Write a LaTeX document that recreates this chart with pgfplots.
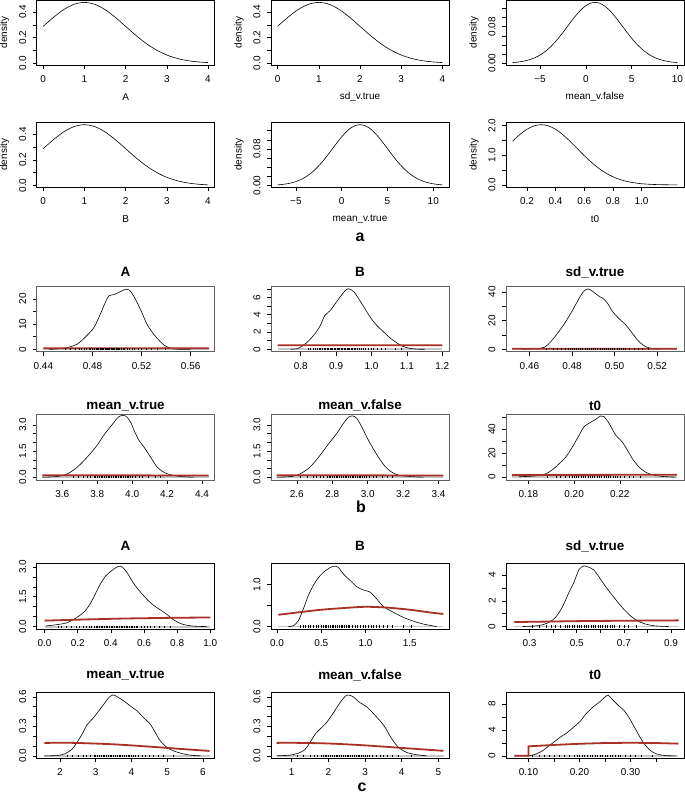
\documentclass[border=0pt]{standalone}
\usepackage{fontspec}
\setmainfont{Liberation Sans}
\usepackage{pgfplots}
\pgfplotsset{compat=1.18}
\definecolor{prior}{RGB}{168,48,36}
\definecolor{boxb}{RGB}{95,95,95}
\pgfplotsset{
  base/.style={scale only axis, anchor=south west, width=178bp,
    tick align=outside, xtick pos=left, ytick pos=left,
    major tick length=4bp, minor tick length=0bp,
    every tick/.style={black, line width=0.5bp},
    axis line style={line width=0.6bp},
    ticklabel style={font=\fontsize{10}{11}\selectfont, inner sep=0pt, text=black},
    xticklabel style={anchor=north},
    yticklabel style={rotate=90, anchor=south},
    xticklabel shift=6.3bp, yticklabel shift=6.3bp},
  sa/.style={base, height=65bp,
    label style={font=\fontsize{10}{11}\selectfont},
    xlabel style={at={(axis description cs:0.5,-0.49)}, anchor=center},
    ylabel style={at={(axis description cs:-0.18,0.5)}, anchor=center},
    ylabel={density}},
  sb/.style={base, height=65.5bp, axis line style={boxb},
    every axis title/.style={at={(axis description cs:0.5,1)}, anchor=center, font=\bfseries\fontsize{13.5}{15}\selectfont, yshift=14bp}},
  sc/.style={base, height=65.5bp,
    every axis title/.style={at={(axis description cs:0.5,1)}, anchor=center, font=\bfseries\fontsize{13.5}{15}\selectfont, yshift=17.5bp}},
  dens/.style={black, line width=0.6bp, smooth},
  pri/.style={prior, line width=1.8bp},
  zer/.style={gray!45, line width=1.8bp},
  rug/.style={only marks, mark=|, mark size=1.1bp, mark options={black, line width=0.35bp}},
}
\begin{document}
\begin{tikzpicture}
\path[use as bounding box] (0,0) rectangle (685bp,793bp);
% ---------------- section a ----------------
\begin{axis}[sa, at={(36.6bp,728bp)}, xmin=-0.16, xmax=4.16, ymin=-0.0135, ymax=0.493,
  xtick={0,1,2,3,4}, xticklabels={0,1,2,3,4}, ytick={0,0.1,0.2,0.3,0.4}, yticklabels={0.0,,0.2,,0.4}, xlabel={A}]
\addplot[dens] coordinates {(0,0.2876)(0.25,0.3579)(0.5,0.4185)(0.75,0.4596)(1,0.4742)(1.25,0.4596)(1.5,0.4185)(1.75,0.3579)(2,0.2876)(2.25,0.2171)(2.5,0.1540)(2.75,0.1026)(3,0.0642)(3.25,0.0377)(3.5,0.0208)(3.75,0.0108)(4,0.0053)};
\end{axis}
\begin{axis}[sa, at={(271bp,728bp)}, xmin=-0.16, xmax=4.16, ymin=-0.0135, ymax=0.493,
  xtick={0,1,2,3,4}, xticklabels={0,1,2,3,4}, ytick={0,0.1,0.2,0.3,0.4}, yticklabels={0.0,,0.2,,0.4}, xlabel={sd\_v.true}]
\addplot[dens] coordinates {(0,0.2876)(0.25,0.3579)(0.5,0.4185)(0.75,0.4596)(1,0.4742)(1.25,0.4596)(1.5,0.4185)(1.75,0.3579)(2,0.2876)(2.25,0.2171)(2.5,0.1540)(2.75,0.1026)(3,0.0642)(3.25,0.0377)(3.5,0.0208)(3.75,0.0108)(4,0.0053)};
\end{axis}
\begin{axis}[sa, at={(506bp,728bp)}, xmin=-8.72, xmax=10.72, ymin=-0.0038, ymax=0.1382,
  xtick={-5,0,5,10}, xticklabels={−5,0,5,10}, ytick={0,0.02,0.04,0.06,0.08,0.10,0.12}, yticklabels={0.00,,,,0.08,,}, xlabel={mean\_v.false}]
\addplot[dens] coordinates {(-8,0.00148)(-7.5,0.00240)(-7,0.00380)(-6.5,0.00584)(-6,0.00874)(-5.5,0.01272)(-5,0.01800)(-4.5,0.02477)(-4,0.03317)(-3.5,0.04317)(-3,0.05467)(-2.5,0.06734)(-2,0.08066)(-1.5,0.09397)(-1,0.10648)(-0.5,0.11736)(0,0.12579)(0.5,0.13115)(1,0.13298)(1.5,0.13115)(2,0.12579)(2.5,0.11736)(3,0.10648)(3.5,0.09397)(4,0.08066)(4.5,0.06734)(5,0.05467)(5.5,0.04317)(6,0.03317)(6.5,0.02477)(7,0.01800)(7.5,0.01272)(8,0.00874)(8.5,0.00584)(9,0.00380)(9.5,0.00240)(10,0.00148)};
\end{axis}
\begin{axis}[sa, at={(36.6bp,605.7bp)}, xmin=-0.16, xmax=4.16, ymin=-0.0135, ymax=0.493,
  xtick={0,1,2,3,4}, xticklabels={0,1,2,3,4}, ytick={0,0.1,0.2,0.3,0.4}, yticklabels={0.0,,0.2,,0.4}, xlabel={B}]
\addplot[dens] coordinates {(0,0.2876)(0.25,0.3579)(0.5,0.4185)(0.75,0.4596)(1,0.4742)(1.25,0.4596)(1.5,0.4185)(1.75,0.3579)(2,0.2876)(2.25,0.2171)(2.5,0.1540)(2.75,0.1026)(3,0.0642)(3.25,0.0377)(3.5,0.0208)(3.75,0.0108)(4,0.0053)};
\end{axis}
\begin{axis}[sa, at={(271bp,605.7bp)}, xmin=-7.72, xmax=11.72, ymin=-0.0038, ymax=0.1382,
  xtick={-5,0,5,10}, xticklabels={−5,0,5,10}, ytick={0,0.02,0.04,0.06,0.08,0.10,0.12}, yticklabels={0.00,,,,0.08,,}, xlabel={mean\_v.true}]
\addplot[dens] coordinates {(-7,0.00148)(-6.5,0.00240)(-6,0.00380)(-5.5,0.00584)(-5,0.00874)(-4.5,0.01272)(-4,0.01800)(-3.5,0.02477)(-3,0.03317)(-2.5,0.04317)(-2,0.05467)(-1.5,0.06734)(-1,0.08066)(-0.5,0.09397)(0,0.10648)(0.5,0.11736)(1,0.12579)(1.5,0.13115)(2,0.13298)(2.5,0.13115)(3,0.12579)(3.5,0.11736)(4,0.10648)(4.5,0.09397)(5,0.08066)(5.5,0.06734)(6,0.05467)(6.5,0.04317)(7,0.03317)(7.5,0.02477)(8,0.01800)(8.5,0.01272)(9,0.00874)(9.5,0.00584)(10,0.00380)(10.5,0.00240)(11,0.00148)};
\end{axis}
\begin{axis}[sa, at={(506bp,605.7bp)}, xmin=0.054, xmax=1.296, ymin=-0.08, ymax=2.105,
  xtick={0.2,0.4,0.6,0.8,1.0}, xticklabels={0.2,0.4,0.6,0.8,1.0}, ytick={0,0.5,1,1.5,2}, yticklabels={0.0,,1.0,,2.0}, xlabel={t0}]
\addplot[dens] coordinates {(0.10,1.4703)(0.15,1.6913)(0.20,1.8692)(0.25,1.9847)(0.30,2.0248)(0.35,1.9847)(0.40,1.8692)(0.45,1.6913)(0.50,1.4703)(0.55,1.2281)(0.60,0.9856)(0.65,0.7600)(0.70,0.5630)(0.75,0.4007)(0.80,0.2740)(0.85,0.1800)(0.90,0.1136)(0.95,0.0689)(1.00,0.0402)(1.05,0.0225)(1.10,0.0121)(1.15,0.0062)(1.20,0.0031)(1.25,0.0015)};
\end{axis}
\node[font=\bfseries\fontsize{16}{17}\selectfont, inner sep=0pt] at (360bp,556bp) {a};
% ---------------- section b ----------------
\begin{axis}[sb, at={(36.6bp,441.3bp)}, title={A}, xmin=0.4345, xmax=0.5795, ymin=-0.95, ymax=25,
  xtick={0.44,0.48,0.52,0.56}, xticklabels={0.44,0.48,0.52,0.56}, ytick={0,5,10,15,20}, yticklabels={0,,10,,20}]
\addplot[zer] coordinates {(0.44,0)(0.575,0)};
\addplot[dens] coordinates {(0.445,0)(0.450,0.1)(0.4596,0.7)(0.4677,2.1)(0.4745,5.0)(0.4813,8.7)(0.4867,14.3)(0.4908,18.9)(0.4935,21.2)(0.4976,21.7)(0.503,22.9)(0.5071,23.8)(0.5098,23.6)(0.5139,20.9)(0.5193,15.6)(0.5247,9.7)(0.5315,5.0)(0.5383,1.7)(0.5437,0.4)(0.549,0.05)(0.56,0)};
\addplot[pri] coordinates {(0.44,0.405)(0.50,0.418)(0.575,0.434)};
\addplot[rug] coordinates {(0.458,0)(0.462,0)(0.466,0)(0.469,0)(0.471,0)(0.473,0)(0.475,0)(0.477,0)(0.478,0)(0.48,0)(0.481,0)(0.483,0)(0.484,0)(0.485,0)(0.486,0)(0.487,0)(0.488,0)(0.489,0)(0.49,0)(0.491,0)(0.492,0)(0.493,0)(0.494,0)(0.495,0)(0.496,0)(0.497,0)(0.498,0)(0.499,0)(0.5,0)(0.501,0)(0.502,0)(0.503,0)(0.505,0)(0.506,0)(0.508,0)(0.51,0)(0.512,0)(0.514,0)(0.517,0)(0.52,0)(0.524,0)(0.528,0)(0.533,0)(0.539,0)};
\end{axis}
\begin{axis}[sb, at={(271bp,441.3bp)}, title={B}, xmin=0.716, xmax=1.219, ymin=-0.28, ymax=7.3,
  xtick={0.8,0.9,1.0,1.1,1.2}, xticklabels={0.8,0.9,1.0,1.1,1.2}, ytick={0,1,2,3,4,5,6,7}, yticklabels={0,,2,,4,,6,}]
\addplot[zer] coordinates {(0.735,0)(1.2,0)};
\addplot[dens] coordinates {(0.772,0)(0.791,0.08)(0.805,0.4)(0.823,1.0)(0.842,1.9)(0.856,2.8)(0.868,3.9)(0.884,4.5)(0.898,5.3)(0.912,6.1)(0.926,6.8)(0.935,7.0)(0.949,6.7)(0.963,5.9)(0.977,5.0)(0.995,3.8)(1.014,2.8)(1.033,2.05)(1.051,1.36)(1.07,0.78)(1.088,0.35)(1.107,0.12)(1.126,0.02)(1.15,0)};
\addplot[pri] coordinates {(0.735,0.458)(0.9,0.470)(1.0,0.474)(1.2,0.465)};
\addplot[rug] coordinates {(0.822,0)(0.828,0)(0.835,0)(0.84,0)(0.846,0)(0.851,0)(0.856,0)(0.861,0)(0.866,0)(0.87,0)(0.874,0)(0.878,0)(0.882,0)(0.886,0)(0.89,0)(0.894,0)(0.898,0)(0.902,0)(0.906,0)(0.91,0)(0.914,0)(0.918,0)(0.922,0)(0.926,0)(0.93,0)(0.934,0)(0.938,0)(0.942,0)(0.946,0)(0.95,0)(0.955,0)(0.96,0)(0.965,0)(0.97,0)(0.976,0)(0.982,0)(0.99,0)(0.998,0)(1.006,0)(1.016,0)(1.028,0)(1.04,0)(1.068,0)(1.085,0)};
\end{axis}
\begin{axis}[sb, at={(506bp,441.3bp)}, title={sd\_v.true}, xmin=0.449, xmax=0.5326, ymin=-1.68, ymax=44,
  xtick={0.46,0.48,0.50,0.52}, xticklabels={0.46,0.48,0.50,0.52}, ytick={0,10,20,30,40}, yticklabels={0,,20,,40}]
\addplot[zer] coordinates {(0.4519,0)(0.5293,0)};
\addplot[dens] coordinates {(0.4569,0)(0.4631,0.5)(0.467,1.4)(0.4701,5.4)(0.4732,11.2)(0.4764,17.8)(0.4795,25.3)(0.4826,33.5)(0.4849,39.3)(0.4865,41.6)(0.4877,42.1)(0.4896,40.5)(0.4927,37.0)(0.4943,35.8)(0.4966,32.3)(0.499,26.4)(0.5021,21.3)(0.5052,17.1)(0.5083,11.2)(0.5114,5.4)(0.5145,1.9)(0.5177,0.5)(0.5208,0)};
\addplot[pri] coordinates {(0.4519,0.41)(0.5293,0.43)};
\addplot[rug] coordinates {(0.468,0)(0.471,0)(0.473,0)(0.475,0)(0.477,0)(0.478,0)(0.479,0)(0.48,0)(0.481,0)(0.482,0)(0.483,0)(0.484,0)(0.485,0)(0.486,0)(0.487,0)(0.488,0)(0.489,0)(0.49,0)(0.491,0)(0.492,0)(0.493,0)(0.494,0)(0.495,0)(0.496,0)(0.497,0)(0.498,0)(0.499,0)(0.5,0)(0.501,0)(0.502,0)(0.503,0)(0.504,0)(0.505,0)(0.507,0)(0.509,0)(0.511,0)(0.513,0)(0.516,0)};
\end{axis}
\begin{axis}[sb, at={(36.6bp,313bp)}, title={mean\_v.true}, title style={yshift=-5bp}, xmin=3.453, xmax=4.472, ymin=-0.16, ymax=3.6,
  xtick={3.6,3.8,4.0,4.2,4.4}, xticklabels={3.6,3.8,4.0,4.2,4.4}, ytick={0,0.5,1,1.5,2,2.5,3}, yticklabels={0.0,,,1.5,,,3.0}]
\addplot[zer] coordinates {(3.486,0)(4.438,0)};
\addplot[dens] coordinates {(3.486,0)(3.571,0.04)(3.629,0.19)(3.686,0.58)(3.743,1.16)(3.8,1.84)(3.838,2.42)(3.876,2.9)(3.914,3.38)(3.933,3.52)(3.962,3.52)(3.99,3.19)(4.01,2.71)(4.038,2.13)(4.067,1.74)(4.105,1.16)(4.143,0.58)(4.181,0.29)(4.219,0.14)(4.276,0.04)(4.352,0)};
\addplot[pri] coordinates {(3.486,0.1176)(4.0,0.1065)(4.438,0.0955)};
\addplot[rug] coordinates {(3.66,0)(3.69,0)(3.72,0)(3.74,0)(3.76,0)(3.78,0)(3.79,0)(3.8,0)(3.81,0)(3.82,0)(3.83,0)(3.84,0)(3.85,0)(3.86,0)(3.87,0)(3.88,0)(3.89,0)(3.9,0)(3.91,0)(3.92,0)(3.93,0)(3.94,0)(3.95,0)(3.96,0)(3.97,0)(3.98,0)(3.99,0)(4.0,0)(4.02,0)(4.04,0)(4.06,0)(4.09,0)(4.13,0)(4.16,0)};
\end{axis}
\begin{axis}[sb, at={(271bp,313bp)}, title={mean\_v.false}, title style={yshift=-5bp}, xmin=2.454, xmax=3.459, ymin=-0.16, ymax=3.6,
  xtick={2.6,2.8,3.0,3.2,3.4}, xticklabels={2.6,2.8,3.0,3.2,3.4}, ytick={0,0.5,1,1.5,2,2.5,3}, yticklabels={0.0,,,1.5,,,3.0}]
\addplot[zer] coordinates {(2.486,0)(3.427,0)};
\addplot[dens] coordinates {(2.486,0)(2.57,0.04)(2.618,0.19)(2.674,0.58)(2.731,1.26)(2.778,1.9)(2.825,2.51)(2.863,3.09)(2.891,3.44)(2.915,3.52)(2.938,3.38)(2.966,2.9)(2.994,2.32)(3.023,1.78)(3.06,1.16)(3.098,0.62)(3.136,0.29)(3.173,0.12)(3.239,0.04)(3.315,0)};
\addplot[pri] coordinates {(2.486,0.1176)(3.0,0.1065)(3.427,0.0958)};
\addplot[rug] coordinates {(2.62,0)(2.66,0)(2.69,0)(2.71,0)(2.73,0)(2.75,0)(2.77,0)(2.78,0)(2.79,0)(2.8,0)(2.81,0)(2.82,0)(2.83,0)(2.84,0)(2.85,0)(2.86,0)(2.87,0)(2.88,0)(2.89,0)(2.9,0)(2.91,0)(2.92,0)(2.93,0)(2.94,0)(2.95,0)(2.96,0)(2.97,0)(2.98,0)(2.99,0)(3.01,0)(3.03,0)(3.05,0)(3.08,0)(3.11,0)(3.14,0)};
\end{axis}
\begin{axis}[sb, at={(506bp,313bp)}, title={t0}, title style={yshift=-5bp}, xmin=0.1702, xmax=0.2481, ymin=-2.4, ymax=52.5,
  xtick={0.18,0.20,0.22}, xticklabels={0.18,0.20,0.22}, ytick={0,10,20,30,40,50}, yticklabels={0,,20,,40,}]
\addplot[zer] coordinates {(0.1728,0)(0.2451,0)};
\addplot[dens] coordinates {(0.176,0.3)(0.1833,1.1)(0.1876,2.8)(0.1905,6.2)(0.1935,11.3)(0.1964,16.9)(0.1993,25.4)(0.2022,35.2)(0.2044,42.3)(0.2065,45.1)(0.2095,48.5)(0.2116,51.3)(0.2131,50.7)(0.2153,45.1)(0.2182,35.2)(0.2204,31.0)(0.2225,25.4)(0.2255,15.5)(0.2284,8.5)(0.2313,4.2)(0.2342,2.0)(0.2385,0.6)(0.2444,0)};
\addplot[pri] coordinates {(0.1728,1.777)(0.21,1.90)(0.2451,1.976)};
\addplot[rug] coordinates {(0.188,0)(0.192,0)(0.194,0)(0.196,0)(0.198,0)(0.199,0)(0.2,0)(0.201,0)(0.202,0)(0.203,0)(0.204,0)(0.205,0)(0.206,0)(0.207,0)(0.208,0)(0.209,0)(0.21,0)(0.211,0)(0.212,0)(0.213,0)(0.214,0)(0.215,0)(0.216,0)(0.217,0)(0.218,0)(0.219,0)(0.22,0)(0.222,0)(0.224,0)(0.226,0)(0.229,0)};
\end{axis}
\node[font=\bfseries\fontsize{16}{17}\selectfont, inner sep=0pt] at (361bp,286bp) {b};
% ---------------- section c ----------------
\begin{axis}[sc, at={(36.6bp,164bp)}, title={A}, xmin=-0.048, xmax=1.026, ymin=-0.12, ymax=3.17,
  xtick={0,0.2,0.4,0.6,0.8,1.0}, xticklabels={0.0,0.2,0.4,0.6,0.8,1.0}, ytick={0,0.5,1,1.5,2,2.5,3}, yticklabels={0.0,,,1.5,,,3.0}]
\addplot[zer] coordinates {(0,0)(1,0)};
\addplot[dens] coordinates {(0.006,0.03)(0.076,0.1)(0.137,0.2)(0.197,0.47)(0.247,0.81)(0.287,1.32)(0.327,1.99)(0.367,2.53)(0.408,2.83)(0.438,3.0)(0.458,3.04)(0.478,2.92)(0.508,2.58)(0.538,2.16)(0.578,1.74)(0.618,1.37)(0.659,1.06)(0.699,0.84)(0.739,0.61)(0.779,0.34)(0.829,0.13)(0.89,0.03)(0.98,0)};
\addplot[pri] coordinates {(0,0.30)(0.25,0.36)(0.5,0.41)(0.75,0.44)(1.0,0.46)};
\addplot[rug] coordinates {(0.08,0)(0.10,0)(0.13,0)(0.16,0)(0.19,0)(0.21,0)(0.23,0)(0.25,0)(0.27,0)(0.28,0)(0.30,0)(0.31,0)(0.32,0)(0.33,0)(0.34,0)(0.35,0)(0.36,0)(0.37,0)(0.38,0)(0.39,0)(0.40,0)(0.41,0)(0.42,0)(0.43,0)(0.44,0)(0.45,0)(0.46,0)(0.47,0)(0.48,0)(0.49,0)(0.50,0)(0.51,0)(0.52,0)(0.53,0)(0.54,0)(0.55,0)(0.56,0)(0.58,0)(0.60,0)(0.62,0)(0.64,0)(0.66,0)(0.69,0)(0.72,0)(0.76,0)};
\end{axis}
\begin{axis}[sc, at={(271bp,164bp)}, title={B}, xmin=-0.068, xmax=1.944, ymin=-0.058, ymax=1.5,
  xtick={0,0.5,1.0,1.5}, xticklabels={0.0,0.5,1.0,1.5}, ytick={0,0.5,1.0}, yticklabels={0.0,,1.0}]
\addplot[zer] coordinates {(0.015,0)(1.88,0)};
\addplot[dens] coordinates {(0.128,0)(0.185,0.02)(0.241,0.14)(0.298,0.42)(0.354,0.74)(0.411,0.98)(0.467,1.16)(0.524,1.29)(0.599,1.40)(0.655,1.44)(0.693,1.41)(0.75,1.25)(0.825,1.1)(0.9,0.95)(0.975,0.87)(1.051,0.82)(1.126,0.66)(1.201,0.48)(1.314,0.34)(1.427,0.22)(1.54,0.13)(1.653,0.06)(1.804,0)};
\addplot[pri, smooth] coordinates {(0.015,0.28)(0.25,0.34)(0.5,0.40)(0.75,0.44)(1.0,0.47)(1.25,0.45)(1.5,0.40)(1.75,0.33)(1.88,0.30)};
\addplot[rug] coordinates {(0.26,0)(0.29,0)(0.32,0)(0.35,0)(0.38,0)(0.41,0)(0.44,0)(0.47,0)(0.5,0)(0.52,0)(0.54,0)(0.56,0)(0.58,0)(0.6,0)(0.62,0)(0.64,0)(0.66,0)(0.68,0)(0.7,0)(0.72,0)(0.74,0)(0.76,0)(0.78,0)(0.8,0)(0.82,0)(0.85,0)(0.88,0)(0.91,0)(0.94,0)(0.97,0)(1.0,0)(1.03,0)(1.06,0)(1.09,0)(1.12,0)(1.16,0)(1.2,0)(1.25,0)(1.3,0)(1.43,0)(1.52,0)};
\end{axis}
\begin{axis}[sc, at={(506bp,164bp)}, title={sd\_v.true}, xmin=0.2, xmax=0.955, ymin=-0.19, ymax=4.9,
  xtick={0.3,0.4,0.5,0.6,0.7,0.8,0.9}, xticklabels={0.3,,0.5,,0.7,,0.9}, ytick={0,1,2,3,4}, yticklabels={0,,2,,4}]
\addplot[zer] coordinates {(0.235,0)(0.932,0)};
\addplot[dens] coordinates {(0.27,0)(0.341,0.08)(0.383,0.34)(0.411,0.73)(0.439,1.52)(0.468,2.69)(0.489,3.48)(0.51,4.44)(0.531,4.71)(0.552,4.6)(0.573,4.39)(0.594,3.87)(0.623,3.09)(0.651,2.43)(0.679,1.78)(0.707,1.2)(0.735,0.73)(0.763,0.39)(0.799,0.16)(0.834,0.05)(0.89,0)};
\addplot[pri] coordinates {(0.235,0.35)(0.5,0.42)(0.75,0.46)(0.932,0.48)};
\addplot[rug] coordinates {(0.31,0)(0.34,0)(0.37,0)(0.39,0)(0.41,0)(0.43,0)(0.45,0)(0.46,0)(0.47,0)(0.48,0)(0.49,0)(0.5,0)(0.51,0)(0.52,0)(0.53,0)(0.54,0)(0.55,0)(0.56,0)(0.57,0)(0.58,0)(0.59,0)(0.6,0)(0.61,0)(0.62,0)(0.63,0)(0.64,0)(0.65,0)(0.66,0)(0.68,0)(0.7,0)(0.72,0)(0.75,0)};
\end{axis}
\begin{axis}[sc, at={(36.6bp,34.7bp)}, title={mean\_v.true}, xmin=1.35, xmax=6.33, ymin=-0.025, ymax=0.642,
  xtick={2,3,4,5,6}, xticklabels={2,3,4,5,6}, ytick={0,0.1,0.2,0.3,0.4,0.5,0.6}, yticklabels={0.0,,,0.3,,,0.6}]
\addplot[zer] coordinates {(1.57,0)(6.19,0)};
\addplot[dens] coordinates {(1.57,0)(1.93,0.003)(2.16,0.024)(2.34,0.068)(2.48,0.136)(2.62,0.22)(2.76,0.315)(2.93,0.383)(3.09,0.458)(3.23,0.525)(3.37,0.593)(3.49,0.62)(3.6,0.603)(3.79,0.559)(3.97,0.508)(4.16,0.458)(4.34,0.39)(4.53,0.322)(4.67,0.237)(4.81,0.153)(5.0,0.085)(5.18,0.051)(5.41,0.024)(5.65,0.007)(5.93,0)};
\addplot[pri, smooth] coordinates {(1.57,0.1317)(2.0,0.1330)(2.5,0.1311)(3.5,0.1174)(4.5,0.0940)(5.5,0.0673)(6.19,0.0501)};
\addplot[rug] coordinates {(2.2,0)(2.35,0)(2.5,0)(2.65,0)(2.75,0)(2.85,0)(2.95,0)(3.0,0)(3.05,0)(3.1,0)(3.15,0)(3.2,0)(3.25,0)(3.3,0)(3.35,0)(3.4,0)(3.45,0)(3.5,0)(3.55,0)(3.6,0)(3.65,0)(3.7,0)(3.75,0)(3.8,0)(3.85,0)(3.9,0)(3.95,0)(4.0,0)(4.05,0)(4.1,0)(4.2,0)(4.3,0)(4.4,0)(4.5,0)(4.6,0)(4.75,0)(4.9,0)(5.18,0)};
\end{axis}
\begin{axis}[sc, at={(271bp,34.7bp)}, title={mean\_v.false}, xmin=0.436, xmax=5.29, ymin=-0.025, ymax=0.642,
  xtick={1,2,3,4,5}, xticklabels={1,2,3,4,5}, ytick={0,0.1,0.2,0.3,0.4,0.5,0.6}, yticklabels={0.0,,,0.3,,,0.6}]
\addplot[zer] coordinates {(0.59,0)(5.14,0)};
\addplot[dens] coordinates {(0.59,0)(0.95,0.007)(1.18,0.027)(1.36,0.064)(1.5,0.136)(1.64,0.22)(1.77,0.271)(1.95,0.339)(2.14,0.44)(2.32,0.542)(2.45,0.603)(2.545,0.62)(2.68,0.6)(2.86,0.542)(3.05,0.498)(3.23,0.43)(3.41,0.356)(3.55,0.288)(3.68,0.203)(3.82,0.125)(3.95,0.075)(4.14,0.034)(4.36,0.014)(4.68,0)};
\addplot[pri, smooth] coordinates {(0.59,0.1317)(1.0,0.1330)(2.0,0.1258)(3.0,0.1065)(4.0,0.0807)(5.0,0.0547)(5.14,0.0513)};
\addplot[rug] coordinates {(1.15,0)(1.3,0)(1.5,0)(1.6,0)(1.7,0)(1.8,0)(1.85,0)(1.9,0)(1.95,0)(2.0,0)(2.05,0)(2.1,0)(2.15,0)(2.2,0)(2.25,0)(2.3,0)(2.35,0)(2.4,0)(2.45,0)(2.5,0)(2.55,0)(2.6,0)(2.65,0)(2.7,0)(2.75,0)(2.8,0)(2.85,0)(2.9,0)(2.95,0)(3.0,0)(3.05,0)(3.1,0)(3.2,0)(3.3,0)(3.4,0)(3.5,0)(3.6,0)(3.75,0)(3.9,0)(4.27,0)};
\end{axis}
\begin{axis}[sc, at={(506bp,34.7bp)}, title={t0}, xmin=0.0557, xmax=0.405, ymin=-0.38, ymax=9.76,
  xtick={0.10,0.15,0.20,0.25,0.30,0.35}, xticklabels={0.10,,0.20,,0.30,}, ytick={0,2,4,6,8}, yticklabels={0,,4,,8}]
\addplot[zer] coordinates {(0.072,0)(0.394,0)};
\addplot[dens] coordinates {(0.1,0)(0.114,0.26)(0.127,0.77)(0.14,1.55)(0.153,2.32)(0.163,2.94)(0.176,3.61)(0.189,4.48)(0.202,5.41)(0.212,6.44)(0.225,7.47)(0.238,8.25)(0.251,9.18)(0.256,9.38)(0.264,8.76)(0.277,7.73)(0.287,7.06)(0.297,5.93)(0.31,4.12)(0.323,2.32)(0.336,1.03)(0.349,0.36)(0.368,0.05)(0.388,0)};
\addplot[pri] coordinates {(0.072,0)(0.1,0)(0.1,1.4703)(0.15,1.6913)(0.2,1.8692)(0.25,1.9847)(0.3,2.0248)(0.35,1.9847)(0.394,1.889)};
\addplot[rug] coordinates {(0.108,0)(0.12,0)(0.13,0)(0.14,0)(0.15,0)(0.16,0)(0.17,0)(0.18,0)(0.19,0)(0.195,0)(0.2,0)(0.205,0)(0.21,0)(0.215,0)(0.22,0)(0.225,0)(0.23,0)(0.235,0)(0.24,0)(0.245,0)(0.25,0)(0.255,0)(0.26,0)(0.265,0)(0.27,0)(0.275,0)(0.28,0)(0.29,0)(0.3,0)(0.31,0)(0.32,0)(0.342,0)};
\end{axis}
\node[font=\bfseries\fontsize{16}{17}\selectfont, inner sep=0pt, anchor=base] at (362bp,2bp) {c};
\end{tikzpicture}
\end{document}
